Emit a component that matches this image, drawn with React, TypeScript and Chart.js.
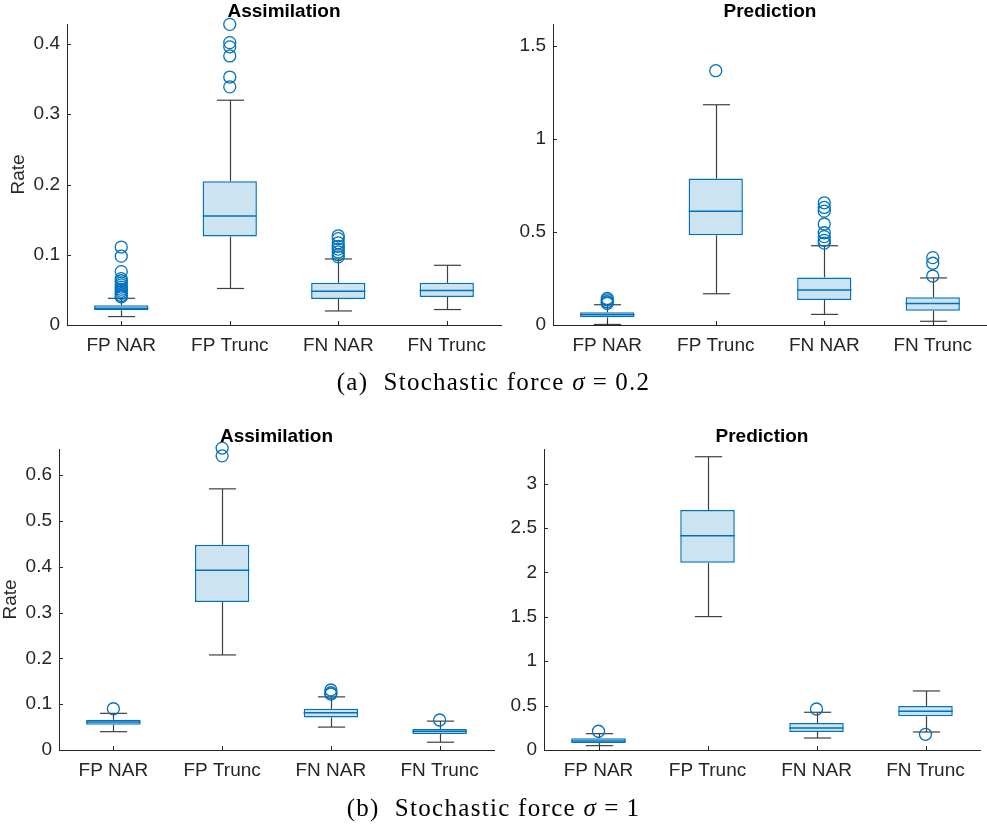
import React, { useEffect, useRef } from "react";
import { Chart, registerables } from "chart.js";

Chart.register(...registerables);

const FONT = '"Liberation Sans", Arial, Helvetica, sans-serif';
const AXIS = "#262626";
const BLUE = "#0072BD";
const FILL = "#CCE3F1";
const WHISKER = "#404040";

const categories = ["FP NAR", "FP Trunc", "FN NAR", "FN Trunc"];

// (a) sigma = 0.2, Assimilation
const aAssimLow = [0.012, 0.052, 0.02, 0.022];
const aAssimQ1 = [0.021, 0.126, 0.037, 0.04];
const aAssimMedian = [0.024, 0.155, 0.048, 0.049];
const aAssimQ3 = [0.028, 0.2045, 0.06, 0.06];
const aAssimHigh = [0.038, 0.32, 0.094, 0.085];
const aAssimOutliers = [
  [0.111, 0.098, 0.076, 0.066, 0.063, 0.06, 0.057, 0.054, 0.051, 0.048, 0.045, 0.042, 0.04],
  [0.428, 0.402, 0.396, 0.383, 0.353, 0.339],
  [0.127, 0.123, 0.117, 0.112, 0.108, 0.104, 0.1, 0.097],
  [],
];
const aAssimTicks = [0, 0.1, 0.2, 0.3, 0.4];

// (a) sigma = 0.2, Prediction
const aPredLow = [0.003, 0.168, 0.057, 0.02];
const aPredQ1 = [0.041, 0.482, 0.134, 0.077];
const aPredMedian = [0.055, 0.611, 0.188, 0.115];
const aPredQ3 = [0.068, 0.787, 0.256, 0.149];
const aPredHigh = [0.109, 1.184, 0.426, 0.253];
const aPredOutliers = [
  [0.143, 0.135, 0.125, 0.117],
  [1.367],
  [0.657, 0.632, 0.612, 0.543, 0.496, 0.475, 0.455, 0.44],
  [0.362, 0.332, 0.263],
];
const aPredTicks = [0, 0.5, 1, 1.5];

// (b) sigma = 1, Assimilation
const bAssimLow = [0.04, 0.2075, 0.05, 0.017];
const bAssimQ1 = [0.055, 0.323, 0.071, 0.035];
const bAssimMedian = [0.061, 0.3925, 0.0815, 0.041];
const bAssimQ3 = [0.066, 0.448, 0.09, 0.046];
const bAssimHigh = [0.08, 0.57, 0.116, 0.063];
const bAssimOutliers = [[0.09], [0.659, 0.642], [0.131, 0.125, 0.122], [0.0655]];
const bAssimTicks = [0, 0.1, 0.2, 0.3, 0.4, 0.5, 0.6];

// (b) sigma = 1, Prediction
const bPredLow = [0.049, 1.503, 0.135, 0.203];
const bPredQ1 = [0.079, 2.109, 0.203, 0.38];
const bPredMedian = [0.1, 2.413, 0.248, 0.436];
const bPredQ3 = [0.132, 2.703, 0.3045, 0.496];
const bPredHigh = [0.184, 3.304, 0.425, 0.665];
const bPredOutliers = [[0.211], [], [0.462], [0.177]];
const bPredTicks = [0, 0.5, 1, 1.5, 2, 2.5, 3];

type Stats = {
  low: number[];
  q1: number[];
  median: number[];
  q3: number[];
  high: number[];
  outliers: number[][];
};

type PanelSpec = {
  title: string;
  yLabel?: string;
  yLabelPad?: number;
  stats: Stats;
  yMax: number;
  yTicks: number[];
  frame: { left: number; top: number; width: number; height: number };
  area: { left: number; top: number; right: number; bottom: number };
};

const panels: PanelSpec[] = [
  {
    title: "Assimilation",
    yLabel: "Rate",
    yLabelPad: 9,
    stats: { low: aAssimLow, q1: aAssimQ1, median: aAssimMedian, q3: aAssimQ3, high: aAssimHigh, outliers: aAssimOutliers },
    yMax: 0.4285,
    yTicks: aAssimTicks,
    frame: { left: 0, top: 0, width: 530, height: 370 },
    area: { left: 67, top: 24, right: 501, bottom: 325 },
  },
  {
    title: "Prediction",
    stats: { low: aPredLow, q1: aPredQ1, median: aPredMedian, q3: aPredQ3, high: aPredHigh, outliers: aPredOutliers },
    yMax: 1.618,
    yTicks: aPredTicks,
    frame: { left: 495, top: 0, width: 530, height: 370 },
    area: { left: 58, top: 24, right: 492, bottom: 325 },
  },
  {
    title: "Assimilation",
    yLabel: "Rate",
    yLabelPad: 1,
    stats: { low: bAssimLow, q1: bAssimQ1, median: bAssimMedian, q3: bAssimQ3, high: bAssimHigh, outliers: bAssimOutliers },
    yMax: 0.657,
    yTicks: bAssimTicks,
    frame: { left: 0, top: 420, width: 530, height: 390 },
    area: { left: 59, top: 29, right: 494, bottom: 330 },
  },
  {
    title: "Prediction",
    stats: { low: bPredLow, q1: bPredQ1, median: bPredMedian, q3: bPredQ3, high: bPredHigh, outliers: bPredOutliers },
    yMax: 3.391,
    yTicks: bPredTicks,
    frame: { left: 490, top: 420, width: 530, height: 390 },
    area: { left: 54, top: 29, right: 490, bottom: 330 },
  },
];

function formatTick(v: number): string {
  return String(Number(v.toFixed(3)));
}

// Whiskers, medians, inward tick marks and the panel title.
function boxPartsPlugin(spec: PanelSpec) {
  const s = spec.stats;
  const seg = (ctx: CanvasRenderingContext2D, x1: number, y1: number, x2: number, y2: number) => {
    ctx.beginPath();
    ctx.moveTo(x1, y1);
    ctx.lineTo(x2, y2);
    ctx.stroke();
  };
  return {
    id: "boxParts",
    beforeDatasetsDraw(chart: any) {
      const { ctx } = chart;
      const x = chart.scales.x;
      const y = chart.scales.y;
      const bars = chart.getDatasetMeta(0).data;
      ctx.save();
      ctx.strokeStyle = WHISKER;
      ctx.lineWidth = 1.2;
      categories.forEach((_, i) => {
        const cx = Math.round(x.getPixelForValue(i)) + 0.5;
        const half = bars[i].width / 4;
        const yHi = y.getPixelForValue(s.high[i]);
        const yLo = y.getPixelForValue(s.low[i]);
        seg(ctx, cx, y.getPixelForValue(s.q3[i]), cx, yHi);
        seg(ctx, cx, y.getPixelForValue(s.q1[i]), cx, yLo);
        seg(ctx, cx - half, yHi, cx + half, yHi);
        seg(ctx, cx - half, yLo, cx + half, yLo);
      });
      ctx.restore();
    },
    afterDatasetsDraw(chart: any) {
      const { ctx, chartArea } = chart;
      const x = chart.scales.x;
      const y = chart.scales.y;
      const bars = chart.getDatasetMeta(0).data;
      ctx.save();
      ctx.strokeStyle = BLUE;
      ctx.lineWidth = 1.5;
      categories.forEach((_, i) => {
        const cx = x.getPixelForValue(i);
        const half = bars[i].width / 2;
        const ym = y.getPixelForValue(s.median[i]);
        seg(ctx, cx - half, ym, cx + half, ym);
      });
      ctx.strokeStyle = AXIS;
      ctx.lineWidth = 1;
      spec.yTicks.forEach((t) => {
        const py = Math.round(y.getPixelForValue(t)) + 0.5;
        seg(ctx, chartArea.left, py, chartArea.left + 4, py);
      });
      categories.forEach((_, i) => {
        const px = Math.round(x.getPixelForValue(i)) + 0.5;
        seg(ctx, px, chartArea.bottom, px, chartArea.bottom - 4);
      });
      ctx.fillStyle = "#000";
      ctx.font = `bold 19px ${FONT}`;
      ctx.textAlign = "center";
      ctx.textBaseline = "alphabetic";
      ctx.fillText(spec.title, (chartArea.left + chartArea.right) / 2, chartArea.top - 7);
      ctx.restore();
    },
  };
}

function BoxPanel({ spec }: { spec: PanelSpec }) {
  const ref = useRef<HTMLCanvasElement | null>(null);
  useEffect(() => {
    const canvas = ref.current;
    if (!canvas) return;
    const s = spec.stats;
    const outlierPoints: { x: string; y: number }[] = [];
    s.outliers.forEach((list, i) => list.forEach((v) => outlierPoints.push({ x: categories[i], y: v })));
    const chart = new Chart(canvas, {
      type: "bar",
      data: {
        labels: categories,
        datasets: [
          {
            type: "bar",
            data: s.q1.map((v, i) => [v, s.q3[i]]) as any,
            backgroundColor: FILL,
            borderColor: BLUE,
            borderWidth: 1.5,
            borderSkipped: false,
            barPercentage: 0.5,
            categoryPercentage: 1,
          },
          {
            type: "line",
            data: outlierPoints as any,
            showLine: false,
            pointStyle: "circle",
            pointRadius: 6,
            pointBorderWidth: 1.3,
            pointBorderColor: BLUE,
            pointBackgroundColor: "rgba(0,0,0,0)",
            clip: false as any,
          },
        ],
      },
      options: {
        responsive: false,
        animation: false,
        events: [],
        layout: {
          padding: {
            left: 0,
            top: spec.area.top,
            right: spec.frame.width - spec.area.right,
            bottom: 0,
          },
        },
        plugins: { legend: { display: false }, tooltip: { enabled: false }, title: { display: false } },
        scales: {
          x: {
            type: "category",
            offset: true,
            grid: { display: false, drawTicks: false },
            border: { display: true, color: AXIS, width: 1 },
            ticks: { color: AXIS, font: { family: FONT, size: 19 }, padding: 9, autoSkip: false, maxRotation: 0 },
            afterFit: (sc: any) => {
              sc.height = spec.frame.height - spec.area.bottom;
            },
          },
          y: {
            type: "linear",
            min: 0,
            max: spec.yMax,
            grid: { display: false, drawTicks: false },
            border: { display: true, color: AXIS, width: 1 },
            ticks: {
              color: AXIS,
              font: { family: FONT, size: 19 },
              padding: 7,
              includeBounds: false,
              callback: (v: any) => formatTick(Number(v)),
            },
            afterBuildTicks: (sc: any) => {
              sc.ticks = spec.yTicks.map((v) => ({ value: v }));
            },
            title: {
              display: !!spec.yLabel,
              text: spec.yLabel || "",
              color: AXIS,
              font: { family: FONT, size: 19, lineHeight: 1 },
              padding: { top: spec.yLabelPad || 0, bottom: 0 },
            },
            afterFit: (sc: any) => {
              sc.width = spec.area.left;
            },
          },
        },
      } as any,
      plugins: [boxPartsPlugin(spec)],
    });
    return () => chart.destroy();
  }, [spec]);
  return (
    <canvas
      ref={ref}
      width={spec.frame.width}
      height={spec.frame.height}
      style={{
        position: "absolute",
        left: spec.frame.left,
        top: spec.frame.top,
        width: spec.frame.width,
        height: spec.frame.height,
      }}
    />
  );
}

const captionStyle: React.CSSProperties = {
  position: "absolute",
  left: 0,
  width: 987,
  textAlign: "center",
  fontFamily: '"Liberation Serif", "Times New Roman", serif',
  fontSize: 25,
  lineHeight: "25px",
  letterSpacing: 1.3,
  color: "#000",
  whiteSpace: "nowrap",
};

function Caption({ tag, value, top }: { tag: string; value: string; top: number }) {
  return (
    <div style={{ ...captionStyle, top }}>
      ({tag})&nbsp;&nbsp;Stochastic force <i>σ</i>
      <span style={{ margin: "0 7px" }}>=</span>
      {value}
    </div>
  );
}

export default function App() {
  return (
    <div
      style={{
        position: "fixed",
        left: 0,
        top: 0,
        width: 987,
        height: 824,
        background: "#fff",
        overflow: "hidden",
      }}
    >
      {panels.map((p, i) => (
        <BoxPanel key={i} spec={p} />
      ))}
      <Caption tag="a" value="0.2" top={369} />
      <Caption tag="b" value="1" top={795} />
    </div>
  );
}
